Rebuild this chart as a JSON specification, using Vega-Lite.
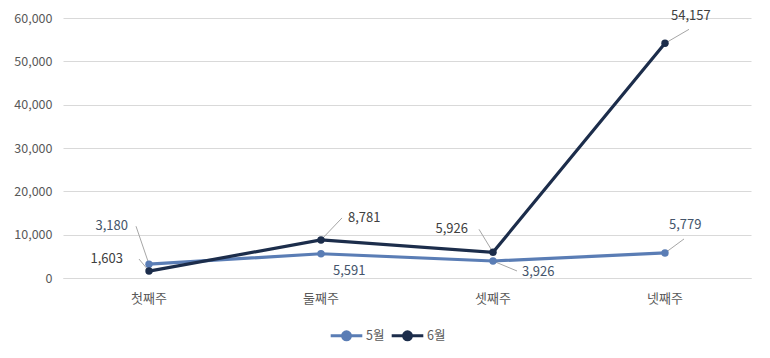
{
  "$schema": "https://vega.github.io/schema/vega-lite/v6.json",
  "width": 688,
  "height": 260,
  "autosize": "none",
  "padding": {"left": 63, "top": 18, "right": 19, "bottom": 80},
  "background": "white",
  "config": {
    "font": "Noto Sans CJK KR",
    "view": {"stroke": null},
    "axis": {"labelFont": "Noto Sans CJK KR", "labelColor": "#595959", "labelFontSize": 12.5, "ticks": false, "gridColor": "#d9d9d9", "domainColor": "#d9d9d9", "title": null}
  },
  "data": {
    "values": [
      {"week": "첫째주", "month": "5월", "value": 3180},
      {"week": "둘째주", "month": "5월", "value": 5591},
      {"week": "셋째주", "month": "5월", "value": 3926},
      {"week": "넷째주", "month": "5월", "value": 5779},
      {"week": "첫째주", "month": "6월", "value": 1603},
      {"week": "둘째주", "month": "6월", "value": 8781},
      {"week": "셋째주", "month": "6월", "value": 5926},
      {"week": "넷째주", "month": "6월", "value": 54157}
    ]
  },
  "encoding": {
    "x": {"field": "week", "type": "nominal", "sort": ["첫째주", "둘째주", "셋째주", "넷째주"], "axis": {"labelAngle": 0, "labelPadding": 14, "domain": true, "labelFontSize": 13}},
    "y": {"field": "value", "type": "quantitative", "scale": {"domain": [0, 60000], "nice": false}, "axis": {"values": [0, 10000, 20000, 30000, 40000, 50000, 60000], "format": ",.0f", "labelOverlap": false, "domain": false, "labelPadding": 11}}
  },
  "layer": [
    {
      "mark": {"type": "rule", "color": "#a6a6a6", "strokeWidth": 1, "x2Offset": -13, "y2Offset": -38},
      "transform": [{"filter": "datum.month=='5월' && datum.week=='첫째주'"}],
      "encoding": {"x2": {"field": "week"}, "y2": {"field": "value"}}
    },
    {
      "mark": {"type": "rule", "color": "#a6a6a6", "strokeWidth": 1, "x2Offset": -10, "y2Offset": -12},
      "transform": [{"filter": "datum.month=='6월' && datum.week=='첫째주'"}],
      "encoding": {"x2": {"field": "week"}, "y2": {"field": "value"}}
    },
    {
      "mark": {"type": "rule", "color": "#a6a6a6", "strokeWidth": 1, "x2Offset": 21, "y2Offset": -22},
      "transform": [{"filter": "datum.month=='6월' && datum.week=='둘째주'"}],
      "encoding": {"x2": {"field": "week"}, "y2": {"field": "value"}}
    },
    {
      "mark": {"type": "rule", "color": "#a6a6a6", "strokeWidth": 1, "x2Offset": 24, "y2Offset": 10},
      "transform": [{"filter": "datum.month=='5월' && datum.week=='셋째주'"}],
      "encoding": {"x2": {"field": "week"}, "y2": {"field": "value"}}
    },
    {
      "mark": {"type": "rule", "color": "#a6a6a6", "strokeWidth": 1, "x2Offset": -14, "y2Offset": -23},
      "transform": [{"filter": "datum.month=='6월' && datum.week=='셋째주'"}],
      "encoding": {"x2": {"field": "week"}, "y2": {"field": "value"}}
    },
    {
      "mark": {"type": "rule", "color": "#a6a6a6", "strokeWidth": 1, "x2Offset": 19, "y2Offset": -14},
      "transform": [{"filter": "datum.month=='5월' && datum.week=='넷째주'"}],
      "encoding": {"x2": {"field": "week"}, "y2": {"field": "value"}}
    },
    {
      "mark": {"type": "rule", "color": "#a6a6a6", "strokeWidth": 1, "x2Offset": 24, "y2Offset": -14},
      "transform": [{"filter": "datum.month=='6월' && datum.week=='넷째주'"}],
      "encoding": {"x2": {"field": "week"}, "y2": {"field": "value"}}
    },
    {
      "mark": {"type": "line", "strokeWidth": 3.2, "point": {"filled": true, "size": 55}},
      "encoding": {
        "color": {"field": "month", "type": "nominal", "scale": {"domain": ["5월", "6월"], "range": ["#5a7db5", "#1c2d4b"]},
          "legend": {"orient": "none", "legendX": 266, "legendY": 300, "direction": "horizontal", "title": null, "padding": 0, "labelFontSize": 12.5, "labelColor": "#595959", "symbolType": "M-1,0L1,0M-0.25,0A0.25,0.25 0 1,1 0.25,0A0.25,0.25 0 1,1 -0.25,0", "symbolSize": 1000, "symbolStrokeWidth": 3, "columnPadding": 0, "labelOffset": 2}}
      }
    },
    {
      "mark": {"type": "text", "align": "right", "baseline": "middle", "dx": -21, "dy": -38, "fontSize": 13, "color": "#44546a"},
      "transform": [{"filter": "datum.month=='5월' && datum.week=='첫째주'"}],
      "encoding": {"text": {"field": "value", "format": ",.0f"}}
    },
    {
      "mark": {"type": "text", "align": "right", "baseline": "middle", "dx": -26, "dy": -12, "fontSize": 13, "color": "#404040"},
      "transform": [{"filter": "datum.month=='6월' && datum.week=='첫째주'"}],
      "encoding": {"text": {"field": "value", "format": ",.0f"}}
    },
    {
      "mark": {"type": "text", "align": "left", "baseline": "middle", "dx": 12, "dy": 17, "fontSize": 13, "color": "#44546a"},
      "transform": [{"filter": "datum.month=='5월' && datum.week=='둘째주'"}],
      "encoding": {"text": {"field": "value", "format": ",.0f"}}
    },
    {
      "mark": {"type": "text", "align": "left", "baseline": "middle", "dx": 27, "dy": -22, "fontSize": 13, "color": "#404040"},
      "transform": [{"filter": "datum.month=='6월' && datum.week=='둘째주'"}],
      "encoding": {"text": {"field": "value", "format": ",.0f"}}
    },
    {
      "mark": {"type": "text", "align": "left", "baseline": "middle", "dx": 29, "dy": 11, "fontSize": 13, "color": "#44546a"},
      "transform": [{"filter": "datum.month=='5월' && datum.week=='셋째주'"}],
      "encoding": {"text": {"field": "value", "format": ",.0f"}}
    },
    {
      "mark": {"type": "text", "align": "right", "baseline": "middle", "dx": -25, "dy": -23, "fontSize": 13, "color": "#404040"},
      "transform": [{"filter": "datum.month=='6월' && datum.week=='셋째주'"}],
      "encoding": {"text": {"field": "value", "format": ",.0f"}}
    },
    {
      "mark": {"type": "text", "align": "left", "baseline": "middle", "dx": 4, "dy": -28, "fontSize": 13, "color": "#44546a"},
      "transform": [{"filter": "datum.month=='5월' && datum.week=='넷째주'"}],
      "encoding": {"text": {"field": "value", "format": ",.0f"}}
    },
    {
      "mark": {"type": "text", "align": "left", "baseline": "middle", "dx": 6, "dy": -27, "fontSize": 13, "color": "#404040"},
      "transform": [{"filter": "datum.month=='6월' && datum.week=='넷째주'"}],
      "encoding": {"text": {"field": "value", "format": ",.0f"}}
    }
  ]
}
